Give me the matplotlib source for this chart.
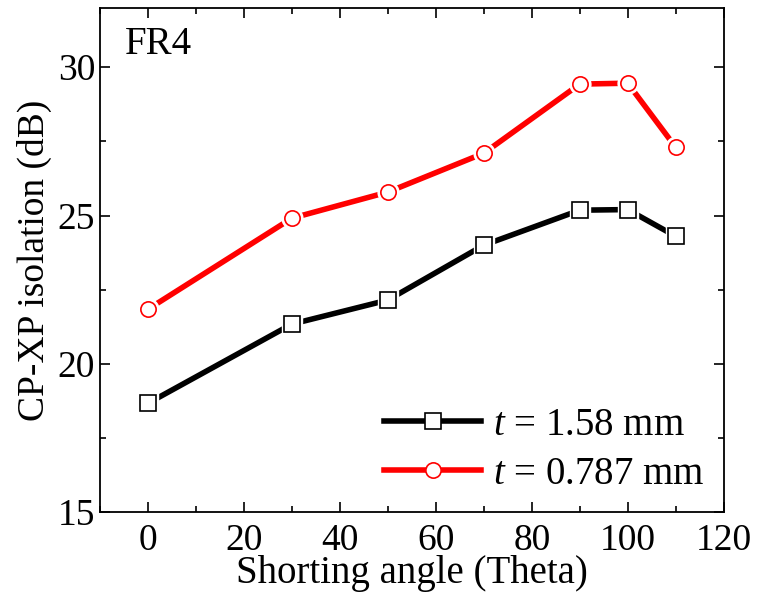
import matplotlib.pyplot as plt
from matplotlib.ticker import MultipleLocator

plt.rcParams['font.family'] = ['Liberation Serif', 'DejaVu Serif']
plt.rcParams['mathtext.fontset'] = 'custom'
plt.rcParams['mathtext.it'] = 'Liberation Serif:italic'
plt.rcParams['mathtext.rm'] = 'Liberation Serif'

angle = [0, 30, 50, 70, 90, 100, 110]
iso_158 = [18.67, 21.34, 22.15, 24.0, 25.18, 25.2, 24.3]
iso_0787 = [21.84, 24.91, 25.79, 27.1, 29.43, 29.46, 27.3]

fig = plt.figure(figsize=(7.57, 6.04), dpi=100)
ax = fig.add_axes([0.132, 0.152, 0.824, 0.835])

for y, c, m, lab in [(iso_158, 'black', 's', r'$t$ = 1.58 mm'),
                     (iso_0787, 'red', 'o', r'$t$ = 0.787 mm')]:
    ax.plot(angle, y, color=c, lw=4.0, zorder=2)
    # white halo so the line stops short of the marker
    ax.plot(angle, y, ls='none', marker=m, ms=15, mfc='white', mec='white', zorder=3)
    ax.plot(angle, y, ls='none', marker=m, ms=11, mfc='white', mec=c, mew=1.2, zorder=4)
    ax.plot([], [], color=c, lw=4.0, marker=m, ms=11, mfc='white', mec=c, mew=1.2, label=lab)

ax.set_xlim(-10, 120)
ax.set_ylim(15, 32)
ax.xaxis.set_major_locator(MultipleLocator(20))
ax.xaxis.set_minor_locator(MultipleLocator(10))
ax.yaxis.set_major_locator(MultipleLocator(5))
ax.yaxis.set_minor_locator(MultipleLocator(2.5))
ax.tick_params(which='both', direction='in', top=True, right=True, labelsize=27, width=1.2)
ax.tick_params(which='major', length=7)
ax.tick_params(which='minor', length=4)
ax.tick_params(axis='x', pad=8)
for s in ax.spines.values():
    s.set_linewidth(1.3)

ax.set_xlabel('Shorting angle (Theta)', fontsize=28, labelpad=-2)
ax.set_ylabel('CP-XP isolation (dB)', fontsize=27, labelpad=4)
ax.text(0.04, 0.965, 'FR4', transform=ax.transAxes, fontsize=28, va='top')

ax.legend(loc='lower right', frameon=False, fontsize=28, handlelength=2.5,
          borderaxespad=0.1, labelspacing=0.3, handletextpad=0.3)

plt.savefig('out.png')
